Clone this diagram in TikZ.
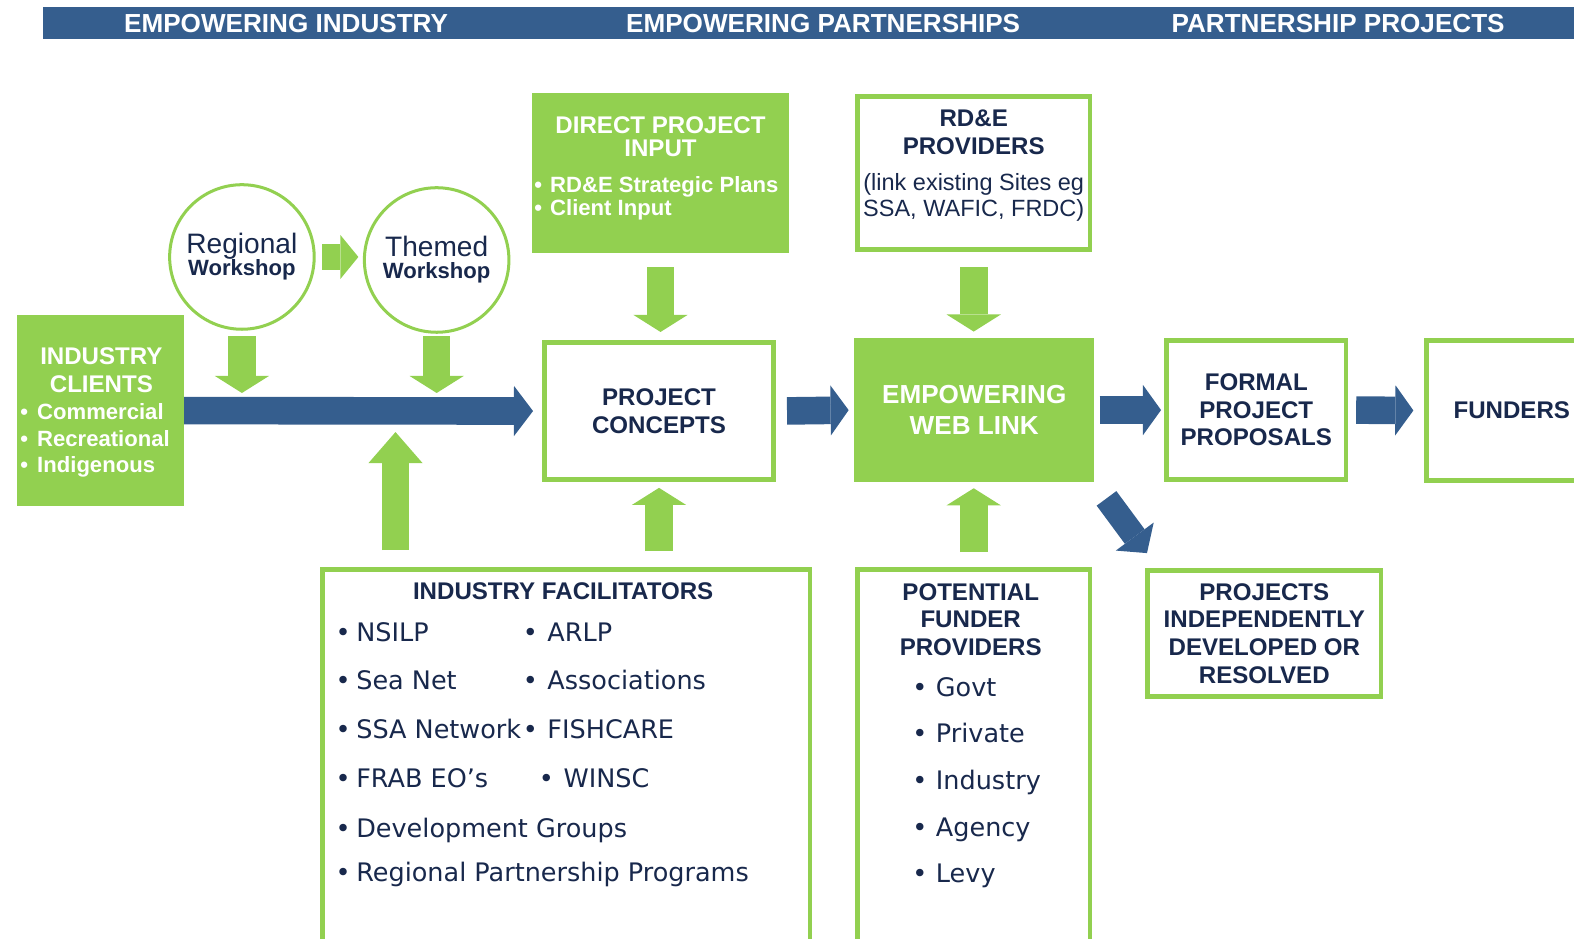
\documentclass[tikz,border=0pt]{standalone}
\usepackage{fontspec}
\setmainfont{Liberation Sans}
\newfontfamily\itemfont{DejaVu Sans}
\usepackage{xcolor}
\usetikzlibrary{arrows.meta}

\definecolor{cgreen}{RGB}{146,208,80}
\definecolor{cblue}{RGB}{53,94,142}
\definecolor{cnavy}{RGB}{24,40,76}

\begin{document}
\begin{tikzpicture}[x=0.5pt, y=-0.5pt,
    fillbox/.style={rectangle, fill=cgreen, text=white, font=\bfseries, align=center, inner sep=0pt},
    linebox/.style={rectangle, draw=cgreen, line width=2.25pt, fill=white, text=cnavy, font=\bfseries\fontsize{12}{13.75}\selectfont, align=center, inner sep=0pt},
    workshop/.style={circle, draw=cgreen, line width=1.5pt, minimum size=72pt, text=cnavy, align=center, inner sep=0pt},
    bartext/.style={text=white, font=\bfseries\fontsize{13}{13}\selectfont, inner sep=0pt},
    whitetext/.style={text=white, inner sep=0pt},
    navytext/.style={text=cnavy, inner sep=0pt, align=center},
    listitem/.style={anchor=base west, text=cnavy, inner sep=0pt, font=\itemfont\fontsize{12.7}{14}\selectfont},
    garrow/.style={draw=cgreen, line width=13.75pt, -{Triangle[width=27pt, length=8.5pt, line width=0pt]}},
    longgarrow/.style={draw=cgreen, line width=13.75pt, -{Triangle[width=27pt, length=15.5pt, line width=0pt]}},
    smallgarrow/.style={draw=cgreen, line width=12.5pt, -{Triangle[width=22pt, length=9pt, line width=0pt]}},
    barrow/.style={draw=cblue, line width=13.75pt, -{Triangle[width=25pt, length=9pt, line width=0pt]}}
]
\useasboundingbox (0,0) rectangle (1568,935);
\clip (0,0) rectangle (1568,935);

% header bar
\node[fill=cblue, anchor=west, minimum width=770pt, minimum height=16pt, inner sep=0pt] (bar) at (42,23) {};
\node[bartext] (hdrindustry) at (285,23) {EMPOWERING INDUSTRY};
\node[bartext] (hdrpartner) at (820,23) {EMPOWERING PARTNERSHIPS};
\node[bartext] (hdrprojects) at (1333,23) {PARTNERSHIP PROJECTS};

% industry side
\node[fillbox, minimum width=83pt, minimum height=95pt] (clients) at (100,409) {};
\node[whitetext, align=center, font=\bfseries\fontsize{12}{14}\selectfont] (clientstitle) at (101,369) {INDUSTRY\\CLIENTS};
\node[whitetext, anchor=base west, font=\bfseries\fontsize{11}{13}\selectfont] (commercial) at (20,418) {•\hspace{4.5pt}Commercial};
\node[whitetext, anchor=base west, font=\bfseries\fontsize{11}{13}\selectfont] (recreational) at (20,445) {•\hspace{4.5pt}Recreational};
\node[whitetext, anchor=base west, font=\bfseries\fontsize{11}{13}\selectfont] (indigenous) at (20,471) {•\hspace{4.5pt}Indigenous};

\node[workshop] (regional) at (241,256) {{\fontsize{14}{14}\selectfont Regional}\\[-1pt]{\bfseries\fontsize{11}{12}\selectfont Workshop}};
\node[workshop] (themed) at (435,259) {{\fontsize{14}{14}\selectfont Themed}\\[-1pt]{\bfseries\fontsize{11}{12}\selectfont Workshop}};

% partnerships
\node[fillbox, minimum width=128pt, minimum height=79.5pt] (direct) at (658,172.5) {};
\node[whitetext, align=center, font=\bfseries\fontsize{12}{11.5}\selectfont] (directtitle) at (658,136.5) {DIRECT PROJECT\\INPUT};
\node[whitetext, anchor=base west, font=\bfseries\fontsize{11}{12}\selectfont] (plans) at (532,192) {•\hspace{4pt}RD\&E Strategic Plans};
\node[whitetext, anchor=base west, font=\bfseries\fontsize{11}{12}\selectfont] (clientinput) at (532,215) {•\hspace{4pt}Client Input};

\node[linebox, minimum width=114.25pt, minimum height=68.25pt, font=\bfseries\fontsize{12}{14}\selectfont] (concepts) at (656.5,409.5) {PROJECT\\CONCEPTS};

\node[linebox, minimum width=115.75pt, minimum height=76.25pt] (providers) at (970,172.5) {};
\node[navytext, font=\bfseries\fontsize{12}{14}\selectfont] (providerstitle) at (970,132) {RD\&E\\PROVIDERS};
\node[navytext, font=\fontsize{11.7}{13}\selectfont] (sites) at (970,197) {(link existing Sites eg\\SSA, WAFIC, FRDC)};

\node[fillbox, minimum width=119.5pt, minimum height=71.5pt, font=\bfseries\fontsize{13}{15.5}\selectfont] (weblink) at (970.5,408.5) {EMPOWERING\\WEB LINK};

% projects
\node[linebox, minimum width=89.25pt, minimum height=69.25pt] (proposals) at (1251.5,408.5) {FORMAL\\PROJECT\\PROPOSALS};
\node[linebox, minimum width=84.75pt, minimum height=69.75pt] (funders) at (1506,409) {FUNDERS};
\node[linebox, minimum width=116.25pt, minimum height=62.75pt] (independent) at (1259.5,631) {PROJECTS\\INDEPENDENTLY\\DEVELOPED OR\\RESOLVED};

% lower boxes
\node[linebox, anchor=north, minimum width=242.75pt, minimum height=200pt] (facilitators) at (564,565) {};
\node[navytext, font=\bfseries\fontsize{12}{14}\selectfont] (factitle) at (561,589) {INDUSTRY FACILITATORS};
\node[listitem] (nsilp) at (334,639.5) {•\hspace{2.8pt}NSILP};
\node[listitem] (seanet) at (334,687) {•\hspace{2.8pt}Sea Net};
\node[listitem] (ssanet) at (334,736) {•\hspace{2.8pt}SSA Network};
\node[listitem] (frab) at (334,784) {•\hspace{2.8pt}FRAB EO’s};
\node[listitem] (devgroups) at (334,834) {•\hspace{2.8pt}Development Groups};
\node[listitem] (rpp) at (334,878.6) {•\hspace{2.8pt}Regional Partnership Programs};
\node[listitem] (arlp) at (520.5,639.5) {•\hspace{4.75pt}ARLP};
\node[listitem] (assoc) at (520.5,687) {•\hspace{4.75pt}Associations};
\node[listitem] (fishcare) at (520.5,736) {•\hspace{4.75pt}FISHCARE};
\node[listitem] (winsc) at (536.5,784) {•\hspace{4.75pt}WINSC};

\node[linebox, anchor=north, minimum width=115.75pt, minimum height=200pt] (funderprov) at (970,565) {};
\node[navytext, font=\bfseries\fontsize{12}{13.75}\selectfont] (fptitle) at (967,617) {POTENTIAL\\FUNDER\\PROVIDERS};
\node[listitem] (govt) at (908.5,694) {•\hspace{4.25pt}Govt};
\node[listitem] (private) at (908.5,740) {•\hspace{4.25pt}Private};
\node[listitem] (industry) at (908.5,786) {•\hspace{4.25pt}Industry};
\node[listitem] (agency) at (908.5,833) {•\hspace{4.25pt}Agency};
\node[listitem] (levy) at (908.5,879) {•\hspace{4.25pt}Levy};

% connectors
\coordinate (merge) at (394,409);
\coordinate (resolvedin) at (1142.6,551);

\draw[smallgarrow, shorten <=3.25pt, shorten >=2.25pt] (regional.east) -- (regional.east -| themed.west);
\draw[garrow, shorten <=2.75pt, shorten >=8.75pt] (regional.south) -- (regional.south |- clients.east);
\draw[garrow, shorten <=1.25pt, shorten >=8.75pt] (themed.south) -- (themed.south |- clients.east);
\draw[barrow, -{Triangle[width=25pt, length=9.5pt, line width=0pt]}, shorten >=4.5pt] (clients.east) -- (concepts.west);
\draw[longgarrow, shorten <=8.5pt, shorten >=10.7pt] (merge |- facilitators.north) -- (merge);
\draw[garrow, shorten <=7pt, shorten >=4.15pt] (direct.south) -- (direct.south |- concepts.north);
\draw[garrow, shorten <=8pt, shorten >=3pt] (concepts.south |- facilitators.north) -- (concepts.south);
\draw[barrow, shorten <=5.5pt, shorten >=2.6pt] (concepts.east) -- (weblink.west);
\draw[garrow, shorten <=7.5pt, shorten >=3.15pt] (providers.south) -- (providers.south |- weblink.north);
\draw[garrow, shorten <=7.5pt, shorten >=3pt] (funderprov.north) -- (funderprov.north |- weblink.south);
\draw[barrow, shorten <=2.5pt, shorten >=1.7pt] (weblink.east) -- (proposals.west);
\draw[barrow, shorten <=4pt, shorten >=5.5pt] (proposals.east) -- (funders.west);
\draw[barrow, line width=12.2pt, -{Triangle[width=23.5pt, length=10.25pt, line width=0pt]}, shorten <=10pt] (weblink.south east) -- (resolvedin);

\end{tikzpicture}
\end{document}
